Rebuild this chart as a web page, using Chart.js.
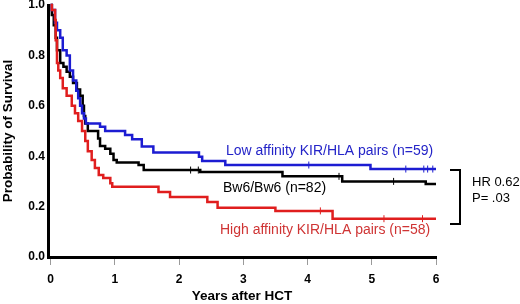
<!DOCTYPE html>
<html>
<head>
<meta charset="utf-8">
<script src="https://cdn.jsdelivr.net/npm/chart.js@4"></script>
<style>
  html, body { margin: 0; padding: 0; background: #ffffff; }
  #wrap { width: 520px; height: 304px; }
</style>
</head>
<body>
<div id="wrap"><canvas id="c" width="520" height="304"></canvas></div>
<script>
// ---------- data ----------
const xTickValues = [0, 1, 2, 3, 4, 5, 6];
const yTickValues = [0, 0.2, 0.4, 0.6, 0.8, 1.0];

const xTitle = 'Years after HCT';
const yTitle = 'Probability of Survival';

// Low affinity KIR/HLA pairs (n=59)
const lowTimes = [0, 0.02, 0.07, 0.10, 0.15, 0.19, 0.25, 0.30, 0.35, 0.40, 0.43, 0.46, 0.49, 0.52, 0.55, 0.77, 0.85, 1.16, 1.27, 1.42, 1.60, 2.31, 2.36, 2.72, 4.98, 6.0];
const lowSurv  = [1.0, 0.98, 0.93, 0.90, 0.87, 0.82, 0.80, 0.74, 0.70, 0.66, 0.63, 0.60, 0.57, 0.55, 0.53, 0.517, 0.50, 0.484, 0.467, 0.438, 0.415, 0.398, 0.381, 0.365, 0.349, 0.349];
const lowCensor = [4.02, 5.53, 5.81, 5.87, 5.95];

// Bw6/Bw6 (n=82)
const bwTimes = [0, 0.02, 0.05, 0.08, 0.10, 0.15, 0.20, 0.25, 0.30, 0.35, 0.41, 0.46, 0.50, 0.52, 0.54, 0.58, 0.74, 0.77, 0.85, 0.93, 0.98, 1.03, 1.37, 1.45, 2.33, 3.61, 4.54, 5.84, 6.0];
const bwSurv  = [1.0, 0.96, 0.92, 0.87, 0.82, 0.77, 0.755, 0.735, 0.715, 0.69, 0.665, 0.64, 0.60, 0.56, 0.53, 0.50, 0.47, 0.44, 0.43, 0.41, 0.385, 0.375, 0.365, 0.345, 0.337, 0.32, 0.30, 0.29, 0.29];
const bwCensor = [2.18, 2.30, 4.49, 5.34];

// High affinity KIR/HLA pairs (n=58)
const highTimes = [0, 0.02, 0.07, 0.08, 0.10, 0.12, 0.15, 0.19, 0.25, 0.33, 0.38, 0.43, 0.49, 0.54, 0.58, 0.64, 0.69, 0.75, 0.82, 0.93, 0.96, 1.68, 1.86, 2.44, 2.60, 3.50, 4.39, 6.0];
const highSurv  = [1.0, 0.98, 0.94, 0.86, 0.77, 0.74, 0.71, 0.67, 0.64, 0.60, 0.57, 0.54, 0.50, 0.46, 0.42, 0.385, 0.353, 0.325, 0.313, 0.293, 0.279, 0.258, 0.238, 0.218, 0.195, 0.183, 0.152, 0.152];
const highCensor = [4.20, 5.19, 5.79];

const lowLabel  = 'Low affinity KIR/HLA pairs (n=59)';
const bwLabel   = 'Bw6/Bw6 (n=82)';
const highLabel = 'High affinity KIR/HLA pairs (n=58)';
const hrText = 'HR 0.62';
const pText  = 'P= .03';

// ---------- helpers ----------
function toPoints(times, surv) {
  return times.map((t, i) => ({ x: t, y: surv[i] }));
}
function censorPoints(times, surv, cens) {
  return cens.map(c => {
    let v = surv[0];
    for (let i = 0; i < times.length; i++) { if (times[i] <= c) v = surv[i]; }
    return { x: c, y: v };
  });
}

const FONT = "'Liberation Sans', Arial, Helvetica, sans-serif";
const BLUE = '#1c1cd2';
const RED = '#e01e1e';
const BLACK = '#000000';

function lineDs(data, color) {
  return {
    type: 'line', data, borderColor: color, backgroundColor: color,
    borderWidth: 2.5, stepped: 'before', pointRadius: 0, fill: false,
    clip: false, borderJoinStyle: 'miter'
  };
}
function censorDs(data, color) {
  return {
    type: 'scatter', data, borderColor: color, backgroundColor: color,
    pointStyle: 'line', rotation: 90, pointRadius: 3.5, borderWidth: 1,
    showLine: false, clip: false
  };
}

const annotations = {
  id: 'annotations',
  afterDatasetsDraw(chart) {
    const ctx = chart.ctx;
    ctx.save();
    ctx.textBaseline = 'middle';
    ctx.textAlign = 'left';
    ctx.font = '14px ' + FONT;
    ctx.fillStyle = '#2424c8';
    ctx.fillText(lowLabel, 226, 151);
    ctx.fillStyle = '#000000';
    ctx.fillText(bwLabel, 223, 188.5);
    ctx.fillStyle = '#cf3434';
    ctx.fillText(highLabel, 220, 230);
    ctx.fillStyle = '#000000';
    ctx.font = '13px ' + FONT;
    ctx.fillText(hrText, 472, 182);
    ctx.fillText(pText, 472, 198);
    // bracket
    ctx.strokeStyle = '#000000';
    ctx.lineWidth = 2;
    ctx.beginPath();
    ctx.moveTo(450, 170);
    ctx.lineTo(460, 170);
    ctx.lineTo(460, 224);
    ctx.lineTo(450, 224);
    ctx.stroke();
    ctx.restore();
  }
};

new Chart(document.getElementById('c'), {
  data: {
    datasets: [
      lineDs(toPoints(highTimes, highSurv), RED),
      censorDs(censorPoints(highTimes, highSurv, highCensor), RED),
      lineDs(toPoints(lowTimes, lowSurv), BLUE),
      censorDs(censorPoints(lowTimes, lowSurv, lowCensor), BLUE),
      lineDs(toPoints(bwTimes, bwSurv), BLACK),
      censorDs(censorPoints(bwTimes, bwSurv, bwCensor), BLACK)
    ]
  },
  options: {
    responsive: false,
    animation: false,
    devicePixelRatio: 1,
    events: [],
    layout: { padding: { left: 0, top: 5, right: 84, bottom: 0 } },
    plugins: { legend: { display: false }, tooltip: { enabled: false } },
    scales: {
      x: {
        type: 'linear', min: -0.04, max: 6,
        afterBuildTicks: s => { s.ticks = xTickValues.map(v => ({ value: v })); },
        afterFit: s => { s.height = 47; s.paddingLeft = 0; s.paddingRight = 0; },
        grid: { display: true, drawOnChartArea: false, drawTicks: true, tickLength: 8, tickColor: '#9a9a9a', tickWidth: 1 },
        border: { display: true, color: '#000', width: 3 },
        ticks: { padding: 7, color: '#000', maxRotation: 0, autoSkip: false,
                 font: { family: FONT, size: 12, weight: 'bold' },
                 callback: v => String(v) },
        title: { display: true, text: xTitle, color: '#000',
                 font: { family: FONT, size: 13.5, weight: 'bold', lineHeight: 1 },
                 padding: { top: 0, bottom: 1 } }
      },
      y: {
        type: 'linear', min: 0, max: 1,
        afterBuildTicks: s => { s.ticks = yTickValues.map(v => ({ value: v })); },
        afterFit: s => { s.width = 48; s.paddingTop = 0; s.paddingBottom = 0; },
        grid: { display: false, drawTicks: false },
        border: { display: true, color: '#000', width: 3 },
        ticks: { padding: 3, color: '#000', autoSkip: false,
                 font: { family: FONT, size: 12, weight: 'bold' },
                 callback: v => Number(v).toFixed(1) },
        title: { display: true, text: yTitle, color: '#000',
                 font: { family: FONT, size: 13.5, weight: 'bold', lineHeight: 1 },
                 padding: { top: 1.5, bottom: 0 } }
      }
    }
  },
  plugins: [annotations]
});
</script>
</body>
</html>
